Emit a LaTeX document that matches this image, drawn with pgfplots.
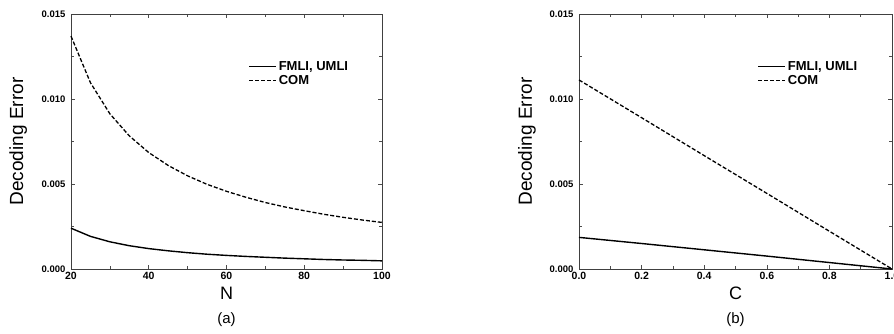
\documentclass[border=0pt]{standalone}
\usepackage{pgfplots}
\pgfplotsset{compat=1.18}
\usepackage{fontspec}
\setmainfont{Liberation Sans}
\begin{document}
\begin{tikzpicture}[x=1pt,y=1pt]
\useasboundingbox (0,0) rectangle (894,333);
\pgfplotsset{
  myax/.style={
    scale only axis, height=255pt, ymin=0, ymax=0.015, clip=false,
    ytick={0,0.005,0.010,0.015},
    yticklabel style={/pgf/number format/fixed,/pgf/number format/precision=3,/pgf/number format/fixed zerofill,font=\fontsize{9.5}{10}\selectfont\bfseries, xshift=-2pt},
    xticklabel style={font=\fontsize{10.5}{11}\selectfont\bfseries},
    scaled y ticks=false,
    /pgf/number format/assume math mode=true,
    minor tick num=1,
    tick style={black!70, line width=0.6pt},
    axis line style={black!75, line width=0.8pt},
    ylabel={Decoding Error},
    ylabel style={font=\fontsize{19}{19}\selectfont},
    xlabel style={font=\fontsize{18}{18}\selectfont},
    legend style={draw=none, fill=none, font=\fontsize{13}{14}\selectfont\bfseries, anchor=north west, row sep=-1pt},
    legend cell align=left,
    legend image code/.code={\draw[#1] (0pt,0pt) -- (27pt,0pt);},
  }
}
\begin{axis}[myax, at={(71pt,64pt)}, anchor=south west, width=311pt,
  xmin=20, xmax=100, xtick={20,40,60,80,100},
  xlabel={N},
  xlabel style={at={(axis description cs:0.5,-0.094)}, anchor=center},
  ylabel style={at={(axis description cs:-0.17,0.5)}, anchor=center},
  legend style={at={(axis description cs:0.56,0.83)}},
]
\addplot[black, solid, no marks, line width=1.4pt] coordinates {(20,0.00240)(25,0.00192)(30,0.00160)(35,0.00137)(40,0.00120)(45,0.00107)(50,0.00096)(55,0.00087)(60,0.00080)(65,0.00074)(70,0.00069)(75,0.00064)(80,0.00060)(85,0.00056)(90,0.00053)(95,0.00051)(100,0.00048)};
\addlegendentry{FMLI, UMLI}
\addplot[black, no marks, line width=1.3pt, dash pattern=on 4pt off 2pt] coordinates {(20,0.01370)(25,0.01096)(30,0.00913)(35,0.00783)(40,0.00685)(45,0.00609)(50,0.00548)(55,0.00498)(60,0.00457)(65,0.00422)(70,0.00391)(75,0.00365)(80,0.00343)(85,0.00322)(90,0.00304)(95,0.00288)(100,0.00274)};
\addlegendentry{COM}
\node[font=\fontsize{15}{15}\selectfont] at (axis description cs:0.5,-0.2) {(a)};
\end{axis}
\begin{axis}[myax, at={(579pt,64pt)}, anchor=south west, width=313pt,
  xmin=0, xmax=1, xtick={0,0.2,0.4,0.6,0.8,1.0},
  xticklabel style={/pgf/number format/fixed,/pgf/number format/precision=1,/pgf/number format/fixed zerofill},
  xlabel={C},
  xlabel style={at={(axis description cs:0.5,-0.094)}, anchor=center},
  ylabel style={at={(axis description cs:-0.166,0.5)}, anchor=center},
  legend style={at={(axis description cs:0.56,0.83)}},
]
\addplot[black, solid, no marks, line width=1.4pt] coordinates {(0,0.00186)(0.2,0.00150)(0.4,0.00113)(0.6,0.00076)(0.8,0.00038)(1.0,0.0)};
\addlegendentry{FMLI, UMLI}
\addplot[black, no marks, line width=1.3pt, dash pattern=on 4pt off 2pt] coordinates {(0,0.01112)(0.2,0.00890)(0.4,0.00667)(0.6,0.00445)(0.8,0.00222)(1.0,0.0)};
\addlegendentry{COM}
\node[font=\fontsize{15}{15}\selectfont] at (axis description cs:0.5,-0.2) {(b)};
\end{axis}
\end{tikzpicture}
\end{document}
